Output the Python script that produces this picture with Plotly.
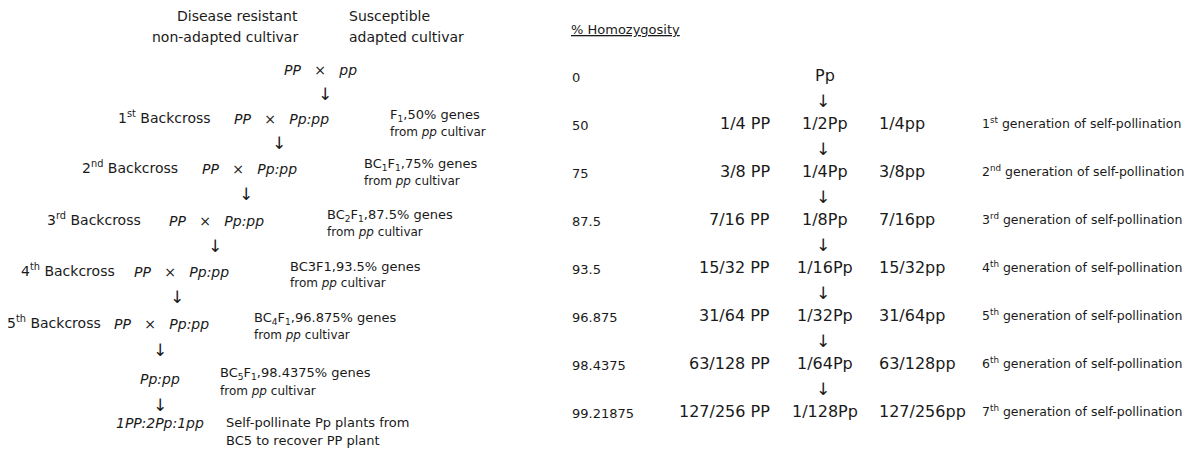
import plotly.graph_objects as go

FONT = "DejaVu Sans"
INK = "#1a1a1a"
SP = "\u00a0"

# ---------------- data ----------------
homozygosity = ["0", "50", "75", "87.5", "93.5", "96.875", "98.4375", "99.21875"]
homo_PP = ["", "1/4 PP", "3/8 PP", "7/16 PP", "15/32 PP", "31/64 PP", "63/128 PP", "127/256 PP"]
hetero_Pp = ["Pp", "1/2Pp", "1/4Pp", "1/8Pp", "1/16Pp", "1/32Pp", "1/64Pp", "1/128Pp"]
homo_pp = ["", "1/4pp", "3/8pp", "7/16pp", "15/32pp", "31/64pp", "63/128pp", "127/256pp"]
generation = ["", "1<sup>st</sup> generation of self-pollination",
              "2<sup>nd</sup> generation of self-pollination",
              "3<sup>rd</sup> generation of self-pollination",
              "4<sup>th</sup> generation of self-pollination",
              "5<sup>th</sup> generation of self-pollination",
              "6<sup>th</sup> generation of self-pollination",
              "7<sup>th</sup> generation of self-pollination"]

backcross = ["1<sup>st</sup> Backcross", "2<sup>nd</sup> Backcross", "3<sup>rd</sup> Backcross",
             "4<sup>th</sup> Backcross", "5<sup>th</sup> Backcross"]
bc_note1 = ["F<sub>1</sub>,50% genes", "BC<sub>1</sub>F<sub>1</sub>,75% genes",
            "BC<sub>2</sub>F<sub>1</sub>,87.5% genes", "BC3F1,93.5% genes",
            "BC<sub>4</sub>F<sub>1</sub>,96.875% genes"]
bc_note2 = "from <i>pp</i> cultivar"

# ---------------- layout helpers ----------------
ann = []


def t(x, y, text, size=13, anchor="left"):
    ann.append(dict(x=x, y=y, xref="x", yref="y", text=text, showarrow=False,
                    xanchor=anchor, yanchor="middle",
                    font=dict(family=FONT, size=size, color=INK)))


cross = "<i>PP</i>" + SP * 3 + "×" + SP * 3 + "<i>Pp:pp</i>"

# ---- left diagram ----
t(300, 16, "Disease resistant", 14, "right")
t(300, 37, "non-adapted cultivar", 14, "right")
t(347, 16, "Susceptible", 14, "left")
t(347, 37, "adapted cultivar", 14, "left")
t(320, 70, "<i>PP</i>" + SP * 3 + "×" + SP * 3 + "<i>pp</i>", 14, "center")
t(325, 94, "↓", 17, "center")

bc_label_right = [213, 180, 143, 117, 103]
cross_left = [232, 200, 167, 132, 112]
row_y = [117, 167, 219, 270, 322]
note_x = [388, 362, 325, 288, 252]
note_dy = [-2, -3, -4, -4, -4]
arrow_x = [279, 246, 215, 177, 160]
arrow_y = [143, 194, 246, 297, 350]

for i in range(5):
    t(bc_label_right[i], row_y[i], backcross[i], 14, "right")
    t(cross_left[i], row_y[i] + 2, cross, 14, "left")
    ny = row_y[i] + note_dy[i]
    t(note_x[i], ny, bc_note1[i], 13, "left")
    t(note_x[i], ny + 17, bc_note2, 12, "left")
    t(arrow_x[i], arrow_y[i], "↓", 17, "center")

t(160, 379, "<i>Pp:pp</i>", 14, "center")
t(218, 373, "BC<sub>5</sub>F<sub>1</sub>,98.4375% genes", 13, "left")
t(218, 391, bc_note2, 12, "left")
t(160, 405, "↓", 17, "center")
t(160, 423, "<i>1PP:2Pp:1pp</i>", 14, "center")
t(224, 422, "Self-pollinate Pp plants from", 13, "left")
t(224, 440, "BC5 to recover PP plant", 13, "left")

# ---- right diagram ----
t(569, 29, "<u>% Homozygosity</u>", 13, "left")
y0, dy = 75, 48
for i in range(len(homozygosity)):
    y = y0 + i * dy
    t(570, y + 2, homozygosity[i], 13, "left")
    if homo_PP[i]:
        t(772, y, homo_PP[i], 16, "right")
    t(825, y, hetero_Pp[i], 16, "center")
    if homo_pp[i]:
        t(877, y, homo_pp[i], 16, "left")
    if generation[i]:
        t(980, y, generation[i], 12.5, "left")
    if i < len(homozygosity) - 1:
        t(823, y + dy * 0.5 + 2, "↓", 17, "center")

# body margin of the page is 8px, so shift the axis ranges to map data = page pixels
OFF = 8
fig = go.Figure()
fig.add_trace(go.Scatter(x=[OFF, 1194 + OFF], y=[OFF, 451 + OFF], mode="markers",
                         marker=dict(opacity=0), hoverinfo="skip", showlegend=False))
fig.update_layout(
    width=1194, height=451,
    margin=dict(l=0, r=0, t=0, b=0),
    paper_bgcolor="white", plot_bgcolor="white",
    xaxis=dict(range=[OFF, 1194 + OFF], visible=False, fixedrange=True),
    yaxis=dict(range=[451 + OFF, OFF], visible=False, fixedrange=True),
    annotations=ann,
    showlegend=False,
)
fig.write_html("out.html")
